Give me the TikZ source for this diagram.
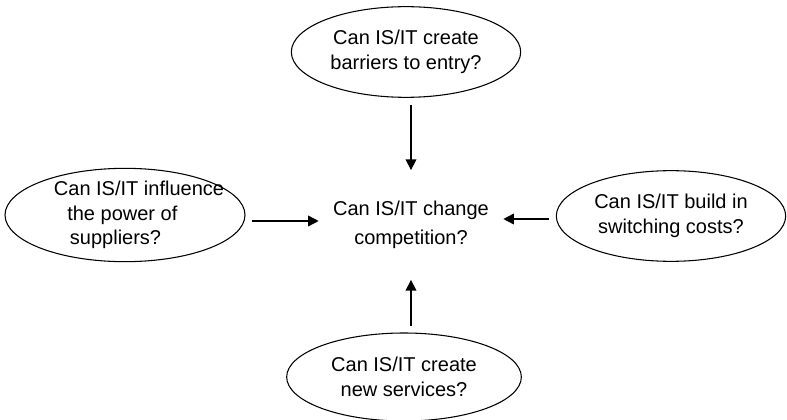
\documentclass[tikz,border=0pt]{standalone}
\usepackage{fontspec}
\setmainfont{Liberation Sans}
\usetikzlibrary{shapes.geometric,arrows.meta}

\tikzset{
  question/.style={draw=black,line width=0.8pt,ellipse,inner sep=0pt,
    minimum width=172pt,minimum height=68pt,align=center,
    font=\fontsize{15}{18.5}\selectfont},
  arr/.style={line width=1.1pt,-{Triangle[length=8pt,width=8pt]},shorten <=5pt}
}

\begin{document}
\begin{tikzpicture}[x=0.75pt,y=-0.75pt]
\useasboundingbox (0,0) rectangle (787,420);

%---------------------------------------------------
\node[font=\fontsize{15}{22}\selectfont,align=center,
  minimum width=138pt,minimum height=82pt,inner sep=0pt] (comp) at (411,225)
  {Can IS/IT change\\competition?};
\coordinate (cw) at ([yshift=3pt]comp.west);
\coordinate (ce) at ([yshift=4.5pt]comp.east);

%---------------------------------------------------
\node[question] (barr) at (406,52) {Can IS/IT create\\barriers to entry?};
\node[question,minimum width=180pt,minimum height=70pt] (supp) at (125,215) {};
\node[font=\fontsize{15}{18.5}\selectfont,align=left,inner sep=0pt] (supptxt) at (139,215)
  {Can IS/IT influence\\\hspace*{10pt}the power of\\\hspace*{12pt}suppliers?};
\node[question] (swit) at (671,216) {Can IS/IT build in\\switching costs?};
\node[question,minimum width=176pt,minimum height=66pt] (serv) at (404,377)
  {Can IS/IT create\\new services?};

%---------------------------------------------------
\draw[arr] (barr.south -| comp.north) -- (comp.north);
\draw[arr] (serv.north -| comp.south) -- (comp.south);
\draw[arr] (supp.east |- cw) -- (cw);
\draw[arr] (swit.west |- ce) -- (ce);
\end{tikzpicture}
\end{document}
